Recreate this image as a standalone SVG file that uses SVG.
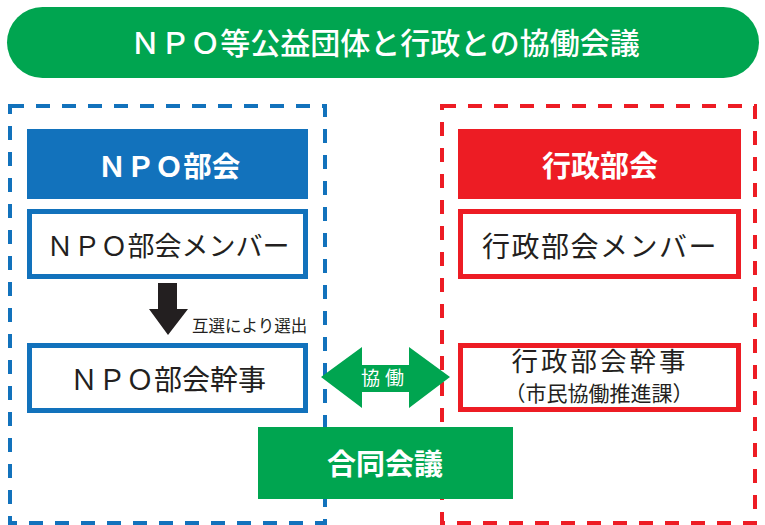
<svg xmlns="http://www.w3.org/2000/svg" width="765" height="525" viewBox="0 0 765 525">
<style>
.jp{font-family:"Noto Sans CJK JP","Noto Sans",sans-serif;}
.wh{fill:#ffffff;font-weight:bold;}
.dk{fill:#231f20;}
.dashb{fill:none;stroke:#1272bc;stroke-width:4;stroke-dasharray:14 12;}
.dashr{fill:none;stroke:#ed1c24;stroke-width:4;stroke-dasharray:14 12;}
</style>
<rect width="765" height="525" fill="#ffffff"/>
<g id="title">
<rect x="7" y="7" width="752" height="71" rx="35.5" fill="#00a550"/>
<text class="jp" x="385" y="54" font-size="30" font-weight="500" fill="#ffffff" text-anchor="middle">ＮＰＯ等公益団体と行政との協働会議</text>
</g>
<g id="npo-group">
<rect class="dashb" x="10" y="106" width="315" height="417"/>
</g>
<g id="gov-group">
<rect class="dashr" x="442" y="106" width="313" height="417"/>
</g>
<g id="npo-bukai">
<rect x="27" y="129" width="281" height="70" fill="#1272bc"/>
<text class="jp wh" x="169" y="177" font-size="28.5" text-anchor="middle">ＮＰＯ部会</text>
</g>
<g id="npo-member">
<rect x="29.5" y="211.5" width="276" height="65" fill="#ffffff" stroke="#1272bc" stroke-width="5"/>
<text class="jp dk" x="168" y="256" font-size="27" text-anchor="middle">ＮＰＯ部会メンバー</text>
</g>
<g id="npo-kanji">
<rect x="29.5" y="345.5" width="276" height="65" fill="#ffffff" stroke="#1272bc" stroke-width="5"/>
<text class="jp dk" x="168" y="390" font-size="28" text-anchor="middle">ＮＰＯ部会幹事</text>
</g>
<g id="gov-bukai">
<rect x="458" y="129" width="283" height="70" fill="#ed1c24"/>
<text class="jp wh" x="600" y="177" font-size="29" text-anchor="middle">行政部会</text>
</g>
<g id="gov-member">
<rect x="460.5" y="211.5" width="278" height="65" fill="#ffffff" stroke="#ed1c24" stroke-width="5"/>
<text class="jp dk" x="600" y="257" font-size="28" letter-spacing="1.5" text-anchor="middle">行政部会メンバー</text>
</g>
<g id="gov-kanji">
<rect x="460.5" y="345.5" width="278" height="64" fill="#ffffff" stroke="#ed1c24" stroke-width="5"/>
<text class="jp dk" x="600" y="371" font-size="26.5" letter-spacing="3" text-anchor="middle">行政部会幹事</text>
<text class="jp dk" x="599" y="401" font-size="21" text-anchor="middle">（市民協働推進課）</text>
</g>
<g id="godo">
<rect x="258" y="427" width="255" height="72" fill="#00a550"/>
<text class="jp wh" x="385" y="475" font-size="29" text-anchor="middle">合同会議</text>
</g>
<g id="connectors">
<polygon points="158,283 177,283 177,309 188,309 168,335 149,309 158,309" fill="#231f20"/>
<text class="jp dk" x="192" y="332" font-size="16.5">互選により選出</text>
<polygon points="321,377 362,347 362,365 409,365 409,347 450,377 409,408 409,392 362,392 362,408" fill="#00a550"/>
<text class="jp" x="385" y="385" font-size="19" fill="#ffffff" text-anchor="middle" letter-spacing="5">協働</text>
</g>
</svg>
